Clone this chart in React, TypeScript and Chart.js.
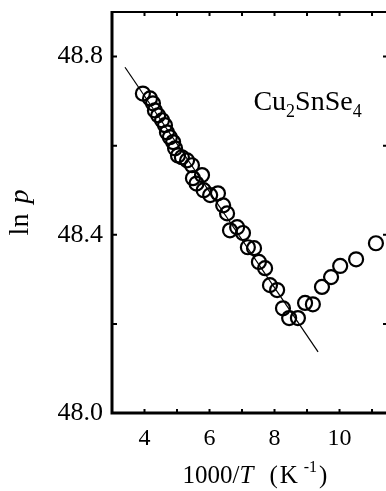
import React, { useEffect, useRef } from 'react';
import { Chart, registerables } from 'chart.js';

Chart.register(...registerables);

// 1000/T (K^-1)
const invTemp = [
  3.95, 4.17, 4.26, 4.32, 4.42, 4.54, 4.63, 4.69, 4.78, 4.88, 4.94, 5.03, 5.15, 5.31,
  5.46, 5.49, 5.6, 5.77, 5.82, 6.02, 6.26, 6.42, 6.54, 6.63, 6.85, 7.03, 7.18, 7.37,
  7.52, 7.71, 7.86, 8.08, 8.26, 8.45, 8.72, 8.94, 9.18, 9.46, 9.74, 10.02, 10.51, 11.12,
];
// ln p
const lnP = [
  48.717, 48.706, 48.695, 48.679, 48.668, 48.657, 48.646, 48.63, 48.619, 48.608, 48.594,
  48.578, 48.574, 48.567, 48.556, 48.527, 48.515, 48.534, 48.5, 48.489, 48.493, 48.466,
  48.448, 48.41, 48.417, 48.404, 48.372, 48.37, 48.339, 48.325, 48.287, 48.276, 48.235,
  48.213, 48.213, 48.247, 48.244, 48.283, 48.305, 48.33, 48.345, 48.381,
];
// linear fit line
const fitX = [3.4, 9.34];
const fitY = [48.776, 48.137];

const xTickLabels = [4, 6, 8, 10];
const yTickLabels = [48.0, 48.4, 48.8];
const xMinorTicks = [4, 5, 6, 7, 8, 9, 10, 11];
const yMinorTicks = [48.2, 48.4, 48.6, 48.8];

const SERIF = '"Liberation Serif", "Times New Roman", serif';

type Run = { t: string; f: string; dy?: number; gap?: number };

function drawRuns(ctx: CanvasRenderingContext2D, runs: Run[], x: number, y: number) {
  let cx = x;
  for (const r of runs) {
    cx += r.gap || 0;
    ctx.font = r.f;
    ctx.fillText(r.t, cx, y + (r.dy || 0));
    cx += ctx.measureText(r.t).width;
  }
  return cx;
}
function runsWidth(ctx: CanvasRenderingContext2D, runs: Run[]) {
  let w = 0;
  for (const r of runs) {
    ctx.font = r.f;
    w += ctx.measureText(r.t).width + (r.gap || 0);
  }
  return w;
}

const framePlugin = {
  id: 'frame',
  afterDraw(chart: any) {
    const { ctx, chartArea } = chart;
    const { left, top, right, bottom } = chartArea;
    const xs = chart.scales.x;
    const ys = chart.scales.y;
    ctx.save();
    ctx.strokeStyle = '#000';
    ctx.fillStyle = '#000';
    // axes
    ctx.lineWidth = 3;
    ctx.beginPath();
    ctx.moveTo(left, top - 1);
    ctx.lineTo(left, bottom);
    ctx.lineTo(right, bottom);
    ctx.stroke();
    ctx.lineWidth = 2;
    ctx.beginPath();
    ctx.moveTo(left, top);
    ctx.lineTo(right, top);
    ctx.stroke();
    // inward ticks
    ctx.lineWidth = 2;
    ctx.beginPath();
    for (const v of xMinorTicks) {
      const px = xs.getPixelForValue(v);
      ctx.moveTo(px, bottom);
      ctx.lineTo(px, bottom - 4);
      ctx.moveTo(px, top);
      ctx.lineTo(px, top + 4);
    }
    for (const v of yMinorTicks) {
      const py = ys.getPixelForValue(v);
      ctx.moveTo(left, py);
      ctx.lineTo(left + 5, py);
      ctx.moveTo(right, py);
      ctx.lineTo(right - 3, py);
    }
    ctx.stroke();

    ctx.textBaseline = 'alphabetic';
    ctx.textAlign = 'left';
    // x title
    const xr: Run[] = [
      { t: '1000/', f: `25px ${SERIF}` },
      { t: 'T', f: `italic 25px ${SERIF}` },
      { t: '(', f: `25px ${SERIF}`, gap: 16 },
      { t: 'K', f: `25px ${SERIF}`, gap: 2 },
      { t: '-1', f: `16px ${SERIF}`, dy: -11, gap: 6 },
      { t: ')', f: `25px ${SERIF}`, gap: 2 },
    ];
    const xw = runsWidth(ctx, xr);
    drawRuns(ctx, xr, 255 - xw / 2, 483);

    // compound label
    const cr: Run[] = [
      { t: 'Cu', f: `28px ${SERIF}` },
      { t: '2', f: `18px ${SERIF}`, dy: 7 },
      { t: 'SnSe', f: `28px ${SERIF}` },
      { t: '4', f: `18px ${SERIF}`, dy: 7 },
    ];
    drawRuns(ctx, cr, xs.getPixelForValue(7.35), ys.getPixelForValue(48.68));

    // y title
    ctx.translate(28, (top + bottom) / 2);
    ctx.rotate(-Math.PI / 2);
    const yr: Run[] = [
      { t: 'ln', f: `28px ${SERIF}` },
      { t: 'p', f: `italic 28px ${SERIF}`, gap: 10 },
    ];
    const yw = runsWidth(ctx, yr);
    drawRuns(ctx, yr, -yw / 2, 0);
    ctx.restore();
  },
};

export default function App() {
  const ref = useRef<HTMLCanvasElement | null>(null);
  useEffect(() => {
    if (!ref.current) return;
    const chart = new Chart(ref.current, {
      type: 'scatter',
      data: {
        datasets: [
          {
            label: 'fit',
            data: fitX.map((x, i) => ({ x, y: fitY[i] })),
            showLine: true,
            borderColor: '#000',
            borderWidth: 1.2,
            pointRadius: 0,
            order: 2,
          },
          {
            label: 'ln p',
            data: invTemp.map((x, i) => ({ x, y: lnP[i] })),
            showLine: false,
            pointRadius: 7,
            pointBorderWidth: 2.2,
            pointBorderColor: '#000',
            pointBackgroundColor: 'rgba(0,0,0,0)',
            order: 1,
          },
        ],
      },
      options: {
        responsive: false,
        animation: false,
        events: [],
        layout: { autoPadding: false, padding: { top: 12, left: 0, right: 0, bottom: 0 } },
        plugins: { legend: { display: false }, tooltip: { enabled: false } },
        scales: {
          x: {
            type: 'linear',
            min: 3,
            max: 11.43,
            grid: { display: false, drawTicks: false },
            border: { display: false },
            ticks: {
              stepSize: 1,
              includeBounds: false,
              autoSkip: false,
              maxRotation: 0,
              padding: 11,
              color: '#000',
              font: { family: SERIF, size: 24 },
              callback: (v: any) => (xTickLabels.some((t) => Math.abs(t - v) < 1e-6) ? String(v) : ''),
            },
            afterFit: (s: any) => {
              s.height = 78;
              s.paddingLeft = 0;
              s.paddingRight = 0;
              s.paddingTop = 0;
              s.paddingBottom = 0;
            },
          },
          y: {
            type: 'linear',
            min: 48.0,
            max: 48.9,
            grid: { display: false, drawTicks: false },
            border: { display: false },
            ticks: {
              stepSize: 0.2,
              includeBounds: false,
              autoSkip: false,
              padding: 9,
              color: '#000',
              font: { family: SERIF, size: 26 },
              callback: (v: any) => {
                const t = yTickLabels.find((t) => Math.abs(t - v) < 1e-6);
                return t === undefined ? '' : t.toFixed(1);
              },
            },
            afterFit: (s: any) => {
              s.width = 112;
              s.paddingLeft = 0;
              s.paddingRight = 0;
              s.paddingTop = 0;
              s.paddingBottom = 0;
            },
          },
        },
      },
      plugins: [framePlugin],
    });
    return () => chart.destroy();
  }, []);
  return (
    <div style={{ position: 'fixed', left: 0, top: 0, width: 386, height: 491, background: '#fff' }}>
      <canvas ref={ref} width={386} height={491} style={{ display: 'block', width: 386, height: 491 }} />
    </div>
  );
}
